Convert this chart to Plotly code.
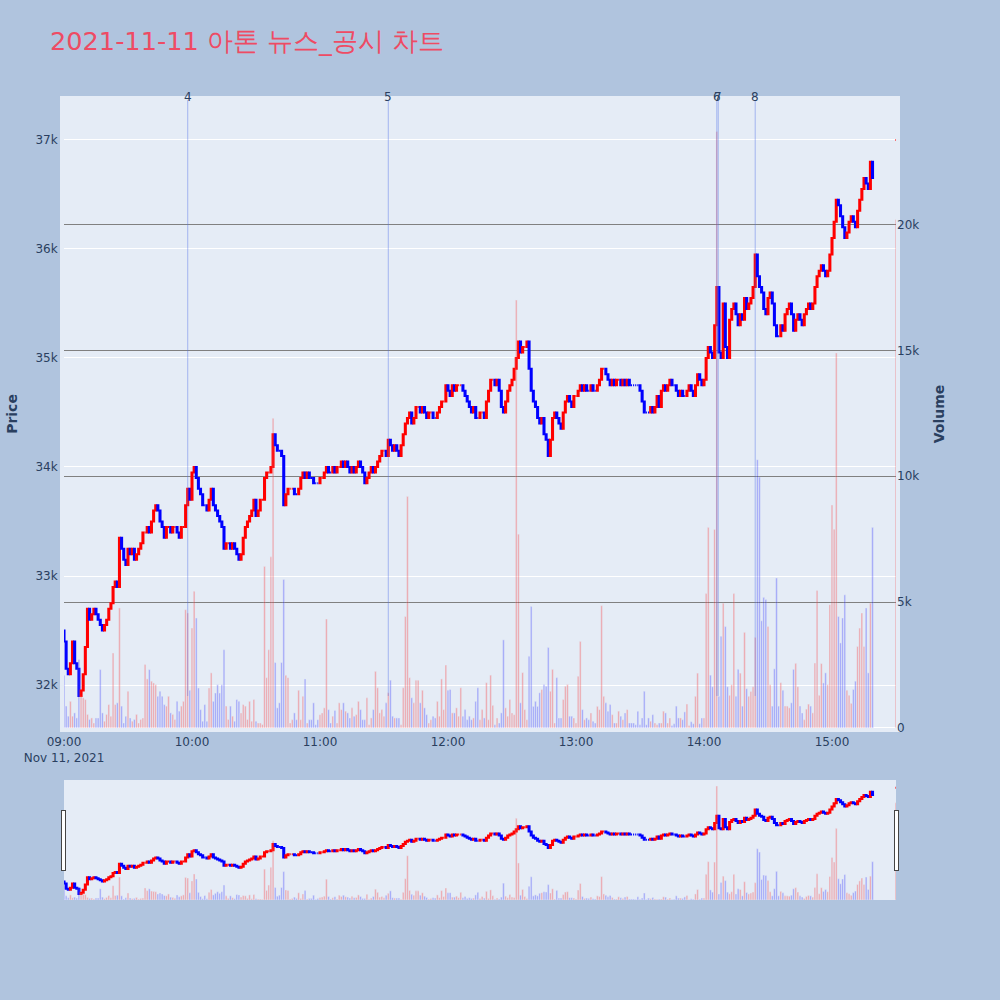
import pandas as pd
import plotly.graph_objects as go
from plotly.subplots import make_subplots

# ---------------- data ----------------
session_start = "2021-11-11 09:00"
first_open = 32500

# 1-minute closes 09:00 .. 15:19
closes = [
    32400, 32150, 32100, 32200, 32400, 32200, 32150, 31900, 31950, 32100,
    32350, 32700, 32600, 32650, 32700, 32650, 32600, 32550, 32500, 32550,
    32600, 32700, 32750, 32900, 32950, 32900, 33350, 33250, 33150, 33100,
    33250, 33200, 33250, 33150, 33200, 33250, 33300, 33400, 33400, 33450,
    33400, 33500, 33600, 33650, 33600, 33500, 33450, 33350, 33450, 33450,
    33400, 33450, 33450, 33400, 33350, 33450, 33450, 33650, 33800, 33700,
    33950, 34000, 33900, 33800, 33750, 33650, 33650, 33600, 33700, 33800,
    33650, 33600, 33550, 33500, 33450, 33250, 33300, 33300, 33250, 33300,
    33250, 33200, 33150, 33200, 33350, 33450, 33500, 33550, 33600, 33700,
    33550, 33600, 33700, 33700, 33900, 33950, 33950, 34000, 34300, 34200,
    34150, 34150, 34100, 33650, 33750, 33800, 33800, 33800, 33750, 33750,
    33800, 33900, 33950, 33900, 33950, 33900, 33900, 33850, 33850, 33850,
    33900, 33900, 33950, 34000, 33950, 33950, 34000, 33950, 34000, 34000,
    34050, 34000, 34050, 34000, 33950, 34000, 33950, 34000, 34050, 34000,
    33950, 33850, 33900, 33950, 34000, 33950, 34000, 34050, 34100, 34150,
    34150, 34100, 34250, 34200, 34150, 34200, 34150, 34100, 34200, 34300,
    34400, 34450, 34500, 34400, 34450, 34550, 34550, 34500, 34550, 34500,
    34450, 34500, 34500, 34450, 34450, 34500, 34550, 34600, 34600, 34750,
    34700, 34650, 34750, 34700, 34750, 34750, 34750, 34700, 34650, 34600,
    34550, 34500, 34550, 34450, 34450, 34500, 34500, 34450, 34600, 34700,
    34800, 34800, 34750, 34800, 34700, 34550, 34500, 34600, 34700, 34750,
    34800, 34900, 35000, 35150, 35050, 35100, 35100, 35150, 34900, 34700,
    34600, 34550, 34450, 34400, 34450, 34300, 34250, 34100, 34250, 34450,
    34500, 34450, 34400, 34350, 34500, 34600, 34650, 34600, 34550, 34650,
    34650, 34700, 34750, 34700, 34750, 34700, 34700, 34750, 34700, 34700,
    34750, 34800, 34900, 34900, 34850, 34800, 34750, 34800, 34750, 34800,
    34800, 34750, 34800, 34750, 34800, 34750, 34750, 34750, 34750, 34750,
    34700, 34600, 34500, 34500, 34500, 34550, 34500, 34550, 34650, 34550,
    34700, 34750, 34700, 34750, 34800, 34750, 34750, 34700, 34650, 34700,
    34650, 34650, 34700, 34750, 34700, 34650, 34750, 34850, 34800, 34750,
    34800, 35000, 35100, 35050, 35000, 35300, 35650, 35050, 35000, 35500,
    35100, 35000, 35350, 35450, 35500, 35400, 35300, 35400, 35350, 35550,
    35450, 35500, 35550, 35650, 35950, 35750, 35650, 35600, 35450, 35400,
    35550, 35600, 35500, 35300, 35200, 35200, 35300, 35250, 35400, 35450,
    35500, 35400, 35250, 35350, 35400, 35350, 35300, 35400, 35450, 35500,
    35450, 35500, 35650, 35750, 35800, 35850, 35800, 35750, 35800, 35950,
    36100, 36250, 36450, 36400, 36300, 36200, 36100, 36150, 36250, 36300,
    36250, 36200, 36350, 36450, 36550, 36650, 36600, 36550, 36800, 36650,
]

volumes = [
    2100, 870, 470, 1060, 470, 600, 400, 2720, 1260, 1200,
    1130, 540, 340, 400, 200, 400, 400, 2320, 600, 270,
    540, 930, 470, 2980, 930, 1000, 4770, 870, 200, 470,
    1460, 400, 270, 340, 540, 200, 340, 400, 2520, 1950,
    2320, 1860, 1790, 1720, 1260, 1460, 1260, 930, 870, 1260,
    600, 540, 340, 1060, 670, 870, 1060, 4700, 4570, 1500,
    3970, 5430, 4370, 1590, 730, 270, 930, 270, 1590, 2190,
    1060, 1390, 1720, 1390, 1720, 3110, 870, 340, 870, 470,
    270, 1130, 1060, 600, 930, 870, 340, 1060, 270, 1130,
    270, 200, 200, 140, 6420, 2000, 3110, 6800, 12300, 2600,
    800, 1000, 2600, 5900, 2100, 2000, 200, 330, 600, 330,
    1500, 330, 1260, 1950, 200, 330, 330, 1000, 130, 330,
    530, 600, 800, 4330, 730, 200, 470, 700, 200, 1000,
    730, 1000, 670, 600, 400, 800, 470, 530, 1060, 730,
    330, 330, 1200, 130, 400, 730, 2250, 1600, 600, 730,
    470, 1000, 1400, 1900, 470, 400, 400, 400, 130, 1600,
    4430, 9200, 2000, 1200, 1000, 1900, 1900, 1000, 1500, 800,
    530, 200, 330, 470, 400, 1060, 470, 1950, 730, 2500,
    1500, 1530, 600, 600, 800, 470, 1600, 470, 730, 330,
    470, 330, 400, 1060, 1600, 330, 730, 400, 1800, 330,
    2100, 900, 130, 400, 200, 600, 3500, 800, 470, 1130,
    600, 530, 17000, 7700, 1000, 2200, 730, 330, 2850, 4830,
    860, 1060, 860, 1400, 1530, 1730, 1660, 3200, 1460, 2330,
    200, 2000, 400, 400, 1130, 1660, 1730, 470, 470, 400,
    200, 2060, 3440, 730, 330, 400, 330, 600, 270, 200,
    860, 730, 4860, 1260, 1000, 670, 930, 530, 200, 200,
    670, 470, 330, 600, 730, 200, 200, 200, 130, 670,
    130, 400, 1460, 130, 400, 270, 530, 200, 130, 200,
    200, 670, 600, 200, 400, 100, 170, 870, 400, 400,
    330, 640, 950, 100, 250, 170, 1260, 2180, 170, 400,
    400, 5340, 7970, 2100, 1640, 7890, 23700, 1260, 3640, 4960,
    4030, 1640, 1300, 1720, 5340, 1260, 2330, 2180, 870, 3800,
    1560, 1260, 1450, 1640, 3600, 10660, 9970, 4260, 5190, 5100,
    4030, 1720, 870, 2350, 5960, 870, 1800, 1500, 870, 870,
    800, 1000, 2330, 2570, 1640, 870, 600, 330, 750, 950,
    870, 600, 2580, 5460, 1300, 2560, 1790, 2190, 1720, 4900,
    8860, 7900, 14900, 4430, 3380, 4370, 5290, 1500, 1300, 980,
    1530, 1860, 3240, 3970, 4570, 3240, 4770, 2190, 4960, 7970,
]

# closing auction
auction_time = "2021-11-11 15:30"
auction_price = 37000
auction_volume = 20200

# news / disclosure markers
news_times = ["2021-11-11 09:58:00", "2021-11-11 11:32:00", "2021-11-11 14:06:00",
              "2021-11-11 14:06:40", "2021-11-11 14:24:00"]
news_labels = ["4", "5", "6", "7", "8"]

day_low = 31900
x_range = ["2021-11-11 09:00", "2021-11-11 15:30"]
price_range = [31606, 37366]

title_text = "2021-11-11 아톤 뉴스_공시 차트"

# ---------------- build OHLC ----------------
assert len(closes) == len(volumes)
times = list(pd.date_range(session_start, periods=len(closes), freq="min")) + [pd.Timestamp(auction_time)]
opens = [first_open] + closes[:-1] + [auction_price]
cl = closes + [auction_price]
highs = [max(o, c) for o, c in zip(opens, cl)]
lows = [min(o, c) for o, c in zip(opens, cl)]
vols = volumes + [auction_volume]

# direction like plotly's candlestick logic
colors = []
inc = True
prev = None
for o, c in zip(opens, cl):
    if c == o:
        if prev is not None and c != prev:
            inc = c > prev
    else:
        inc = c > o
    prev = c
    colors.append("red" if inc else "blue")

BG = "#E5ECF6"
FONT = "DejaVu Sans, Verdana, sans-serif"

fig = make_subplots(specs=[[{"secondary_y": True}]])
fig.add_trace(go.Candlestick(
    x=times, open=opens, high=highs, low=lows, close=cl,
    increasing_line_color="red", decreasing_line_color="blue",
    name="Price", showlegend=False), secondary_y=False)
fig.add_trace(go.Bar(
    x=times, y=vols, marker_color=colors, opacity=0.3,
    name="Volume", showlegend=False), secondary_y=True)

for t, lab in zip(news_times, news_labels):
    fig.add_shape(type="line", xref="x", yref="y", x0=t, x1=t,
                  y0=day_low, y1=price_range[1],
                  line=dict(color="rgba(80,110,230,0.45)", width=1))
    fig.add_annotation(x=t, y=1, xref="x", yref="paper", text=lab,
                       showarrow=False, yanchor="middle", yshift=3,
                       font=dict(size=12, color="#2a3f5f"))

fig.update_layout(
    width=1000, height=1000,
    font=dict(family=FONT),
    paper_bgcolor="#B0C4DE", plot_bgcolor=BG,
    margin=dict(l=64, r=104, t=100, b=100),
    title=dict(text=title_text, x=0.05, xanchor="left", y=0.959, yanchor="middle",
               font=dict(size=25.6, color="#EE4B64", family=FONT)),
    showlegend=False,
)
fig.update_xaxes(range=x_range, domain=[0, 1], showgrid=False,
                 showline=True, linecolor=BG, linewidth=4, mirror=True,
                 rangeslider=dict(visible=True, range=x_range, bgcolor=BG, thickness=0.15))
fig.update_yaxes(title_text="<b>Price</b>", range=price_range, automargin=False,
                 showline=True, linecolor=BG, linewidth=4, mirror=True,
                 secondary_y=False)
fig.update_yaxes(title_text="<b>Volume</b>", automargin=False,
                 showgrid=True, gridcolor="gray", gridwidth=1,
                 secondary_y=True)

fig.write_html("out.html", config={"displayModeBar": False},
               post_script="document.body.style.margin='0';")
